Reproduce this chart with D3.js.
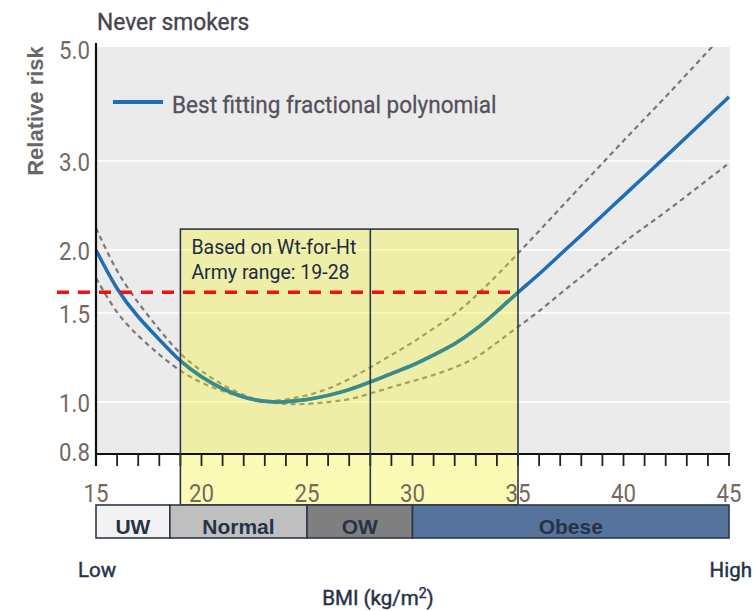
<!DOCTYPE html>
<html>
<head>
<meta charset="utf-8">
<script src="https://cdn.jsdelivr.net/npm/d3@7"></script>
<style>
  body { margin: 0; background: #fff; }
  svg { display: block; }
</style>
</head>
<body>
<svg id="chart" width="753" height="611"></svg>
<script>
// BMI grid for the fitted curve and its confidence band
const bmi = [15,16,17,18,19,20,21,22,23,24,25,26,27,28,29,30,31,32,33,34,35,36,37,38,39,40,41,42,43,44,45];
const bestFit = [2.00,1.66,1.47,1.33,1.20,1.12,1.06,1.02,1.00,1.00,1.01,1.03,1.056,1.095,1.14,1.18,1.24,1.30,1.39,1.51,1.65,1.79,1.96,2.14,2.34,2.56,2.80,3.06,3.35,3.67,4.02];
const upperCI = [2.21,1.80,1.57,1.39,1.24,1.15,1.08,1.03,1.00,1.01,1.03,1.06,1.11,1.17,1.24,1.31,1.40,1.49,1.62,1.78,1.97,2.18,2.42,2.68,2.97,3.29,3.64,4.02,4.46,4.95,5.48];
const lowerCI = [1.76,1.49,1.35,1.24,1.15,1.09,1.05,1.02,1.00,0.99,0.99,1.00,1.01,1.04,1.07,1.10,1.13,1.17,1.22,1.31,1.41,1.51,1.64,1.77,1.91,2.07,2.22,2.38,2.56,2.76,2.97];

// Axis ticks
const yTicks = [0.8, 1.0, 1.5, 2.0, 3.0, 5.0];
const yGrid = [1.0, 1.5, 2.0, 3.0];
const xTickLabels = [15, 20, 25, 30, 35, 40, 45];

// BMI category bands
const categories = ["UW", "Normal", "OW", "Obese"];
const categoryFrom = [15, 18.5, 25, 30];
const categoryTo = [18.5, 25, 30, 45];
const categoryFill = ["#f2f2f2", "#bfbfbf", "#7f7f7f", "#56739b"];

// Army weight-for-height range and threshold risk
const armyRange = [19, 28];
const boxRight = 35;
const boxTopRisk = 2.2;
const thresholdRisk = 1.65;
const thresholdFrom = 13.15;
const boxLines = ["Based on Wt-for-Ht", "Army range: 19-28"];

const plain = 'Roboto, "Liberation Sans", Arial, sans-serif';

const svg = d3.select("#chart");

// squeeze a text horizontally to mimic a condensed face
function condense(sel, k) {
  sel.each(function () {
    const w = this.getComputedTextLength();
    d3.select(this).attr("textLength", w * k).attr("lengthAdjust", "spacingAndGlyphs");
  });
  return sel;
}

const x = d3.scaleLinear().domain([15, 45]).range([96, 729]);
const y = d3.scaleLog().domain([0.8, 5]).range([451, 49]);
const axisY = y(0.8) + 3;
const barTop = 505, barBottom = 538;

// plot background
svg.append("rect")
  .attr("x", x(15)).attr("y", y(5) - 2)
  .attr("width", x(45) - x(15) + 1).attr("height", axisY - (y(5) - 2))
  .attr("fill", "#ebebeb");

// horizontal gridlines
svg.append("g").selectAll("line").data(yGrid).join("line")
  .attr("x1", x(15)).attr("x2", x(45) + 1)
  .attr("y1", d => y(d)).attr("y2", d => y(d))
  .attr("stroke", "#fafafa").attr("stroke-width", 2);

const defs = svg.append("defs");
defs.append("clipPath").attr("id", "plotClip")
  .append("rect")
  .attr("x", x(15)).attr("y", y(5) - 2)
  .attr("width", x(45) - x(15) + 1).attr("height", axisY - (y(5) - 2));
defs.append("clipPath").attr("id", "boxClip")
  .append("rect")
  .attr("x", x(armyRange[0])).attr("y", y(boxTopRisk))
  .attr("width", x(boxRight) - x(armyRange[0])).attr("height", axisY - y(boxTopRisk));

const line = (vals) => d3.line()
  .x((d, i) => x(bmi[i]))
  .y(d => y(d))
  .curve(d3.curveBasis)(vals);

const curves = svg.append("g").attr("clip-path", "url(#plotClip)");
[upperCI, lowerCI].forEach(vals => {
  curves.append("path")
    .attr("d", line(vals))
    .attr("fill", "none")
    .attr("stroke", "#787878")
    .attr("stroke-width", 2.2)
    .attr("stroke-dasharray", "5,4");
});
curves.append("path")
  .attr("d", line(bestFit))
  .attr("fill", "none")
  .attr("stroke", "#1f6db3")
  .attr("stroke-width", 3.5);

// yellow Army-range box
svg.append("rect")
  .attr("x", x(armyRange[0])).attr("y", y(boxTopRisk))
  .attr("width", x(boxRight) - x(armyRange[0]))
  .attr("height", barTop - y(boxTopRisk))
  .attr("fill", "#f4f428")
  .attr("fill-opacity", 0.34);

// fitted curve seen through the box
svg.append("path")
  .attr("clip-path", "url(#boxClip)")
  .attr("d", line(bestFit))
  .attr("fill", "none")
  .attr("stroke", "#3a8c8c")
  .attr("stroke-width", 3.5);

// threshold risk line
svg.append("line")
  .attr("x1", x(thresholdFrom)).attr("x2", x(boxRight))
  .attr("y1", y(thresholdRisk)).attr("y2", y(thresholdRisk))
  .attr("stroke", "#ee1111")
  .attr("stroke-width", 3.5)
  .attr("stroke-dasharray", "12,9");

// x axis line and ticks
svg.append("line")
  .attr("x1", x(15) - 1).attr("x2", x(45) + 1)
  .attr("y1", axisY).attr("y2", axisY)
  .attr("stroke", "#111").attr("stroke-width", 2.2);
svg.append("g").selectAll("line").data(d3.range(15, 46)).join("line")
  .attr("x1", d => x(d)).attr("x2", d => x(d))
  .attr("y1", axisY).attr("y2", axisY + 12)
  .attr("stroke", "#222").attr("stroke-width", 1.8);

// y axis line
svg.append("line")
  .attr("x1", x(15)).attr("x2", x(15))
  .attr("y1", y(5) - 6).attr("y2", axisY + 12)
  .attr("stroke", "#111").attr("stroke-width", 2.2);

// box outline and divider
const boxG = svg.append("g").attr("fill", "none").attr("stroke", "#2c3849").attr("stroke-width", 1.6);
boxG.append("rect")
  .attr("x", x(armyRange[0])).attr("y", y(boxTopRisk))
  .attr("width", x(boxRight) - x(armyRange[0]))
  .attr("height", barTop - y(boxTopRisk));
boxG.append("line")
  .attr("x1", x(armyRange[1])).attr("x2", x(armyRange[1]))
  .attr("y1", y(boxTopRisk)).attr("y2", barTop);

svg.append("g").selectAll("text").data(boxLines).join("text")
  .attr("x", x(armyRange[0]) + 11)
  .attr("y", (d, i) => y(boxTopRisk) + 25 + i * 25)
  .attr("font-family", plain)
  .attr("font-size", 19.5)
  .attr("fill", "#1f2b3f")
  .text(d => d);

// y tick labels
condense(svg.append("g").selectAll("text").data(yTicks).join("text")
  .attr("x", x(15) - 6)
  .attr("y", d => y(d))
  .attr("dy", "0.36em")
  .attr("text-anchor", "end")
  .attr("font-family", plain)
  .attr("font-size", 26.5)
  .attr("fill", "#76685f")
  .text(d => d.toFixed(1)), 0.84);

// x tick labels
condense(svg.append("g").selectAll("text").data(xTickLabels).join("text")
  .attr("x", d => x(d))
  .attr("y", 502)
  .attr("text-anchor", "middle")
  .attr("font-family", plain)
  .attr("font-size", 26.5)
  .attr("fill", "#76685f")
  .text(d => d), 0.84);

// category bar
const cat = svg.append("g");
cat.selectAll("rect").data(categories).join("rect")
  .attr("x", (d, i) => x(categoryFrom[i]))
  .attr("y", barTop)
  .attr("width", (d, i) => x(categoryTo[i]) - x(categoryFrom[i]))
  .attr("height", barBottom - barTop)
  .attr("fill", (d, i) => categoryFill[i])
  .attr("stroke", "#2c3849")
  .attr("stroke-width", 1.6);
cat.selectAll("text").data(categories).join("text")
  .attr("x", (d, i) => (x(categoryFrom[i]) + x(categoryTo[i])) / 2)
  .attr("y", barBottom - 4)
  .attr("text-anchor", "middle")
  .attr("font-family", '"Liberation Sans", Arial, sans-serif')
  .attr("font-weight", "bold")
  .attr("font-size", 21)
  .attr("fill", "#263247")
  .text(d => d);

// titles
condense(svg.append("text")
  .attr("x", 97).attr("y", 30)
  .attr("font-family", plain)
  .attr("font-size", 24.5)
  .attr("fill", "#47434f")
  .attr("stroke", "#47434f")
  .attr("stroke-width", 0.35)
  .text("Never smokers"), 0.93);

svg.append("text")
  .attr("transform", "translate(43,111) rotate(-90)")
  .attr("text-anchor", "middle")
  .attr("font-family", '"Liberation Sans", Arial, sans-serif')
  .attr("font-weight", "bold")
  .attr("font-size", 22)
  .attr("fill", "#676767")
  .text("Relative risk");

// legend
svg.append("line")
  .attr("x1", 113).attr("x2", 163)
  .attr("y1", 102).attr("y2", 102)
  .attr("stroke", "#1f6db3").attr("stroke-width", 4);
condense(svg.append("text")
  .attr("x", 172).attr("y", 113)
  .attr("font-family", plain)
  .attr("font-size", 24.5)
  .attr("fill", "#55515e")
  .attr("stroke", "#55515e")
  .attr("stroke-width", 0.3)
  .text("Best fitting fractional polynomial"), 0.92);

// BMI scale ends and axis title
const foot = { "font-family": plain, "font-size": 20.5, "fill": "#263247", "stroke": "#263247", "stroke-width": 0.45 };
const low = svg.append("text").attr("x", 78).attr("y", 577).text("Low");
const high = svg.append("text").attr("x", 752).attr("y", 577).attr("text-anchor", "end").text("High");
const title = svg.append("text").attr("x", 378).attr("y", 605).attr("text-anchor", "middle");
title.append("tspan").text("BMI (kg/m");
title.append("tspan").attr("dy", -7).attr("font-size", 14).text("2");
title.append("tspan").attr("dy", 7).text(")");
[low, high, title].forEach(t => Object.entries(foot).forEach(([k, v]) => t.attr(k, v)));
</script>
</body>
</html>
